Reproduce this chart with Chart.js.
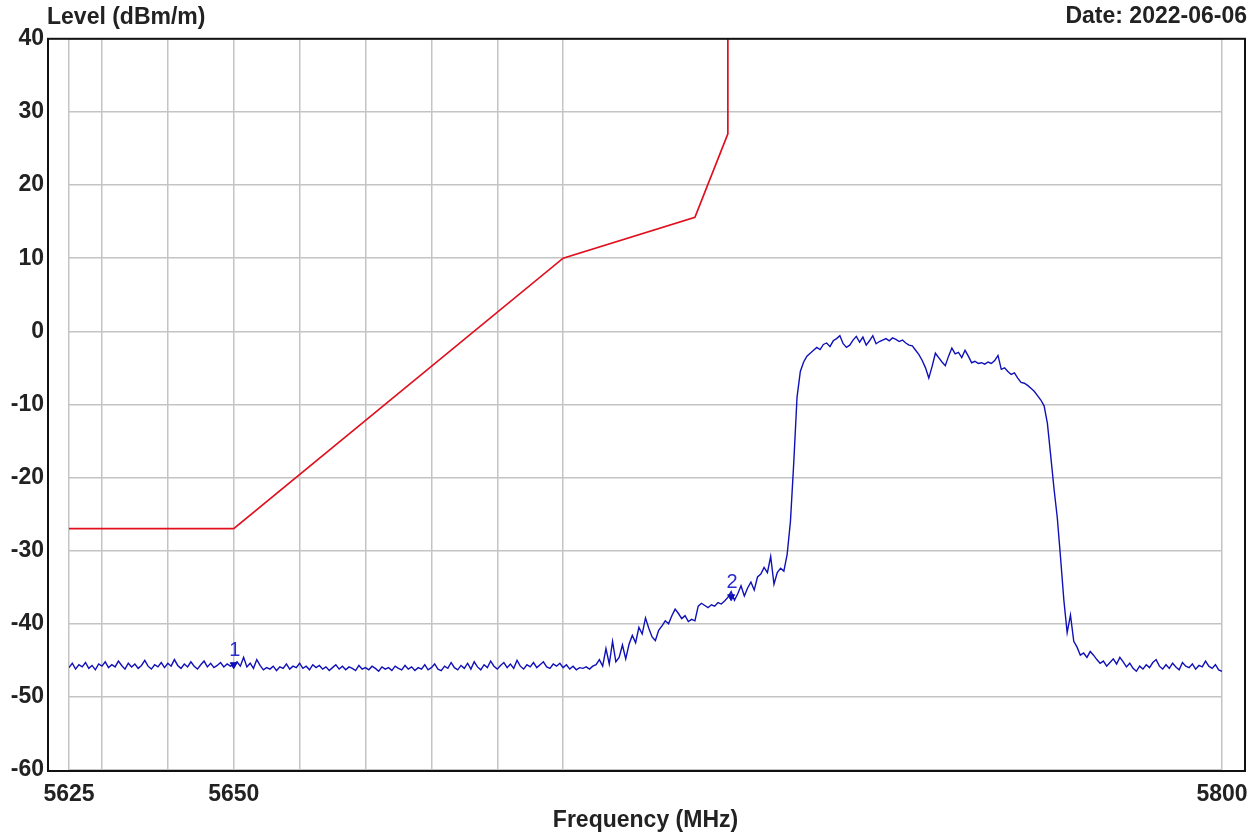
<!DOCTYPE html>
<html>
<head>
<meta charset="utf-8">
<title>Level vs Frequency</title>
<script src="https://cdn.jsdelivr.net/npm/chart.js@4/dist/chart.umd.min.js"></script>
<style>
  html, body { margin: 0; padding: 0; background: #fff; }
  #wrap { width: 1260px; height: 836px; position: relative; }
</style>
</head>
<body>
<div id="wrap"><canvas id="levelChart"></canvas></div>
<script>
// sweep frequencies (MHz), 0.5 MHz per point
const freqMHz = [
  5625,5625.5,5626,5626.5,5627,5627.5,5628,5628.5,5629,5629.5,
  5630,5630.5,5631,5631.5,5632,5632.5,5633,5633.5,5634,5634.5,
  5635,5635.5,5636,5636.5,5637,5637.5,5638,5638.5,5639,5639.5,
  5640,5640.5,5641,5641.5,5642,5642.5,5643,5643.5,5644,5644.5,
  5645,5645.5,5646,5646.5,5647,5647.5,5648,5648.5,5649,5649.5,
  5650,5650.5,5651,5651.5,5652,5652.5,5653,5653.5,5654,5654.5,
  5655,5655.5,5656,5656.5,5657,5657.5,5658,5658.5,5659,5659.5,
  5660,5660.5,5661,5661.5,5662,5662.5,5663,5663.5,5664,5664.5,
  5665,5665.5,5666,5666.5,5667,5667.5,5668,5668.5,5669,5669.5,
  5670,5670.5,5671,5671.5,5672,5672.5,5673,5673.5,5674,5674.5,
  5675,5675.5,5676,5676.5,5677,5677.5,5678,5678.5,5679,5679.5,
  5680,5680.5,5681,5681.5,5682,5682.5,5683,5683.5,5684,5684.5,
  5685,5685.5,5686,5686.5,5687,5687.5,5688,5688.5,5689,5689.5,
  5690,5690.5,5691,5691.5,5692,5692.5,5693,5693.5,5694,5694.5,
  5695,5695.5,5696,5696.5,5697,5697.5,5698,5698.5,5699,5699.5,
  5700,5700.5,5701,5701.5,5702,5702.5,5703,5703.5,5704,5704.5,
  5705,5705.5,5706,5706.5,5707,5707.5,5708,5708.5,5709,5709.5,
  5710,5710.5,5711,5711.5,5712,5712.5,5713,5713.5,5714,5714.5,
  5715,5715.5,5716,5716.5,5717,5717.5,5718,5718.5,5719,5719.5,
  5720,5720.5,5721,5721.5,5722,5722.5,5723,5723.5,5724,5724.5,
  5725,5725.5,5726,5726.5,5727,5727.5,5728,5728.5,5729,5729.5,
  5730,5730.5,5731,5731.5,5732,5732.5,5733,5733.5,5734,5734.5,
  5735,5735.5,5736,5736.5,5737,5737.5,5738,5738.5,5739,5739.5,
  5740,5740.5,5741,5741.5,5742,5742.5,5743,5743.5,5744,5744.5,
  5745,5745.5,5746,5746.5,5747,5747.5,5748,5748.5,5749,5749.5,
  5750,5750.5,5751,5751.5,5752,5752.5,5753,5753.5,5754,5754.5,
  5755,5755.5,5756,5756.5,5757,5757.5,5758,5758.5,5759,5759.5,
  5760,5760.5,5761,5761.5,5762,5762.5,5763,5763.5,5764,5764.5,
  5765,5765.5,5766,5766.5,5767,5767.5,5768,5768.5,5769,5769.5,
  5770,5770.5,5771,5771.5,5772,5772.5,5773,5773.5,5774,5774.5,
  5775,5775.5,5776,5776.5,5777,5777.5,5778,5778.5,5779,5779.5,
  5780,5780.5,5781,5781.5,5782,5782.5,5783,5783.5,5784,5784.5,
  5785,5785.5,5786,5786.5,5787,5787.5,5788,5788.5,5789,5789.5,
  5790,5790.5,5791,5791.5,5792,5792.5,5793,5793.5,5794,5794.5,
  5795,5795.5,5796,5796.5,5797,5797.5,5798,5798.5,5799,5799.5,
  5800
];

const levelDbm = [
  -46.0,-45.4,-46.2,-45.6,-45.9,-45.3,-46.1,-45.7,-46.3,-45.5,
  -45.8,-45.2,-46.0,-45.6,-45.9,-45.1,-45.7,-46.2,-45.4,-45.9,
  -45.5,-46.1,-45.7,-45.0,-45.8,-46.2,-45.6,-45.9,-45.3,-46.0,
  -45.4,-45.8,-44.9,-45.7,-46.1,-45.5,-45.9,-45.2,-45.8,-46.2,
  -45.6,-45.1,-45.9,-45.4,-46.0,-45.7,-45.3,-45.9,-45.5,-45.8,
  -45.6,-45.2,-45.8,-44.6,-45.9,-45.4,-46.1,-44.9,-45.7,-46.3,
  -46.0,-46.2,-45.8,-46.4,-45.9,-46.1,-45.5,-46.2,-45.8,-46.0,
  -45.4,-46.1,-45.8,-46.3,-45.6,-46.0,-45.7,-46.2,-45.9,-46.4,
  -46.0,-45.6,-46.2,-45.8,-46.3,-45.9,-46.1,-46.4,-45.7,-46.2,
  -46.0,-46.3,-45.8,-46.1,-46.5,-45.9,-46.2,-46.0,-46.4,-45.8,
  -46.1,-46.3,-45.7,-46.2,-45.9,-46.4,-46.0,-46.2,-45.6,-46.3,
  -46.0,-45.5,-46.2,-46.4,-45.8,-46.1,-45.3,-46.0,-46.3,-45.7,
  -46.1,-45.4,-46.2,-45.2,-45.9,-46.3,-45.6,-46.0,-45.1,-45.8,
  -46.2,-45.7,-45.3,-46.0,-45.5,-46.1,-45.0,-45.8,-46.2,-45.6,
  -45.9,-45.3,-46.0,-45.6,-45.2,-45.9,-46.1,-45.5,-45.8,-45.4,
  -46.0,-45.6,-46.2,-45.8,-46.3,-46.0,-46.1,-45.9,-46.2,-45.8,
  -45.6,-44.9,-45.8,-43.4,-45.5,-42.4,-45.2,-44.6,-42.9,-44.8,
  -42.8,-41.6,-42.6,-40.5,-41.4,-39.2,-40.6,-41.8,-42.3,-40.9,
  -40.3,-39.6,-40.0,-38.9,-38.0,-38.6,-39.3,-38.9,-39.7,-39.4,
  -39.6,-37.6,-37.2,-37.5,-37.8,-37.4,-37.6,-37.1,-37.3,-36.9,
  -36.4,-35.6,-36.8,-35.9,-34.8,-36.2,-35.1,-34.3,-35.4,-33.6,
  -33.2,-32.3,-33.0,-30.8,-34.6,-33.0,-32.4,-32.8,-30.5,-26.0,
  -18.0,-9.0,-5.5,-4.2,-3.4,-3.0,-2.6,-2.2,-2.5,-1.8,
  -1.6,-2.1,-1.3,-1.0,-0.6,-1.7,-2.2,-1.9,-1.2,-0.7,
  -1.5,-0.8,-1.9,-1.3,-0.6,-1.7,-1.4,-1.2,-1.0,-1.3,
  -0.9,-1.1,-1.4,-1.2,-1.6,-1.9,-2.0,-2.6,-3.2,-4.0,
  -5.0,-6.4,-4.8,-3.0,-3.6,-4.2,-4.7,-3.4,-2.3,-3.1,
  -2.9,-3.6,-2.6,-3.4,-4.3,-4.1,-4.4,-4.3,-4.5,-4.2,
  -4.4,-4.0,-3.3,-5.2,-5.0,-5.5,-5.9,-5.7,-6.4,-7.0,
  -7.1,-7.4,-7.8,-8.2,-8.8,-9.4,-10.2,-12.6,-17.0,-21.5,
  -25.5,-31.0,-36.8,-41.2,-38.8,-42.4,-43.2,-44.3,-44.0,-44.6,
  -43.8,-44.3,-44.9,-45.4,-45.1,-45.8,-45.3,-44.8,-45.5,-44.6,
  -45.2,-45.9,-45.4,-46.1,-46.5,-45.8,-46.2,-45.6,-46.0,-45.3,
  -44.9,-45.8,-46.2,-45.6,-46.1,-45.4,-45.9,-46.3,-45.3,-45.8,
  -46.0,-45.5,-46.2,-45.7,-45.9,-45.1,-45.8,-46.1,-45.6,-46.3,
  -46.5
];

// limit mask
const limitFreq = [5625, 5650, 5700, 5720, 5725, 5725];
const limitLevel = [-27, -27, 10, 15.6, 27, 40];

// markers
const markerFreq = [5650, 5725.5];
const markerLevel = [-45.6, -36.3];
const markerNames = ['1', '2'];

// axis ticks
const gridFreqs = [5625, 5630, 5640, 5650, 5660, 5670, 5680, 5690, 5700, 5800];
const labeledFreqs = [5625, 5650, 5800];
const levelTicks = [-60, -50, -40, -30, -20, -10, 0, 10, 20, 30, 40];

const yAxisLabel = 'Level (dBm/m)';
const dateLabel = 'Date: 2022-06-06';

const FONT = 'Arial, "Liberation Sans", sans-serif';

// frame + header texts + marker numbers
const decorPlugin = {
    id: 'decor',
    afterDraw(chart) {
        const ctx = chart.ctx;
        const a = chart.chartArea;
        ctx.save();
        ctx.strokeStyle = '#111';
        ctx.lineWidth = 2;
        ctx.strokeRect(a.left - 21, a.top, (a.right + 23) - (a.left - 21), a.bottom - a.top + 1);

        ctx.fillStyle = '#222';
        ctx.font = 'bold 23px ' + FONT;
        ctx.textBaseline = 'middle';
        ctx.textAlign = 'left';
        ctx.fillText(yAxisLabel, a.left - 22, 18);
        ctx.textAlign = 'right';
        ctx.fillText(dateLabel, a.right + 25, 17);

        // marker numbers
        const xs = chart.scales.x, ys = chart.scales.y;
        ctx.fillStyle = '#2a2ad0';
        ctx.font = '20px ' + FONT;
        ctx.textAlign = 'center';
        ctx.textBaseline = 'bottom';
        markerFreq.forEach(function(f, i) {
            ctx.fillText(markerNames[i], xs.getPixelForValue(f) + 1, ys.getPixelForValue(markerLevel[i]) - 4);
        });
        ctx.restore();
    }
};

function createLevelChart() {
    const ctx = document.getElementById('levelChart').getContext('2d');
    return new Chart(ctx, {
        type: 'line',
        data: {
            datasets: [{
                label: 'Limit',
                data: limitFreq.map((f, i) => ({ x: f, y: limitLevel[i] })),
                borderColor: '#e0101e',
                borderWidth: 1.7,
                pointRadius: 0,
                tension: 0
            }, {
                label: 'Level',
                data: freqMHz.map((f, i) => ({ x: f, y: levelDbm[i] })),
                borderColor: '#1010b8',
                borderWidth: 1.4,
                pointRadius: 0,
                tension: 0
            }, {
                label: 'Markers',
                data: markerFreq.map((f, i) => ({ x: f, y: markerLevel[i] })),
                showLine: false,
                pointStyle: 'triangle',
                rotation: 180,
                pointRadius: 4,
                backgroundColor: '#1010b8',
                borderColor: '#1010b8'
            }]
        },
        options: {
            responsive: true,
            maintainAspectRatio: false,
            animation: false,
            devicePixelRatio: 1,
            layout: { padding: { top: 37, right: 38, left: 0, bottom: 0 } },
            plugins: {
                legend: { display: false },
                tooltip: { enabled: false }
            },
            scales: {
                x: {
                    type: 'linear',
                    min: 5625,
                    max: 5800,
                    afterBuildTicks: s => { s.ticks = gridFreqs.map(v => ({ value: v })); },
                    afterFit: s => { s.height = 66; },
                    border: { display: false },
                    grid: { color: '#c4c4c4', lineWidth: 1.5, drawTicks: false },
                    ticks: {
                        autoSkip: false,
                        maxRotation: 0,
                        padding: 11,
                        color: '#222',
                        font: { family: FONT, size: 23, weight: 'bold' },
                        callback: v => labeledFreqs.includes(v) ? String(v) : ''
                    },
                    title: {
                        display: true,
                        text: 'Frequency (MHz)',
                        color: '#222',
                        font: { family: FONT, size: 23, weight: 'bold' },
                        padding: { top: 0, bottom: 2 }
                    }
                },
                y: {
                    min: -60,
                    max: 40,
                    afterBuildTicks: s => { s.ticks = levelTicks.map(v => ({ value: v })); },
                    afterFit: s => { s.width = 69; },
                    border: { display: false },
                    grid: { color: '#c4c4c4', lineWidth: 1.5, drawTicks: false },
                    ticks: {
                        padding: 25,
                        color: '#222',
                        font: { family: FONT, size: 23, weight: 'bold' }
                    }
                }
            }
        },
        plugins: [decorPlugin]
    });
}

document.addEventListener('DOMContentLoaded', function() {
    createLevelChart();
});
</script>
</body>
</html>
